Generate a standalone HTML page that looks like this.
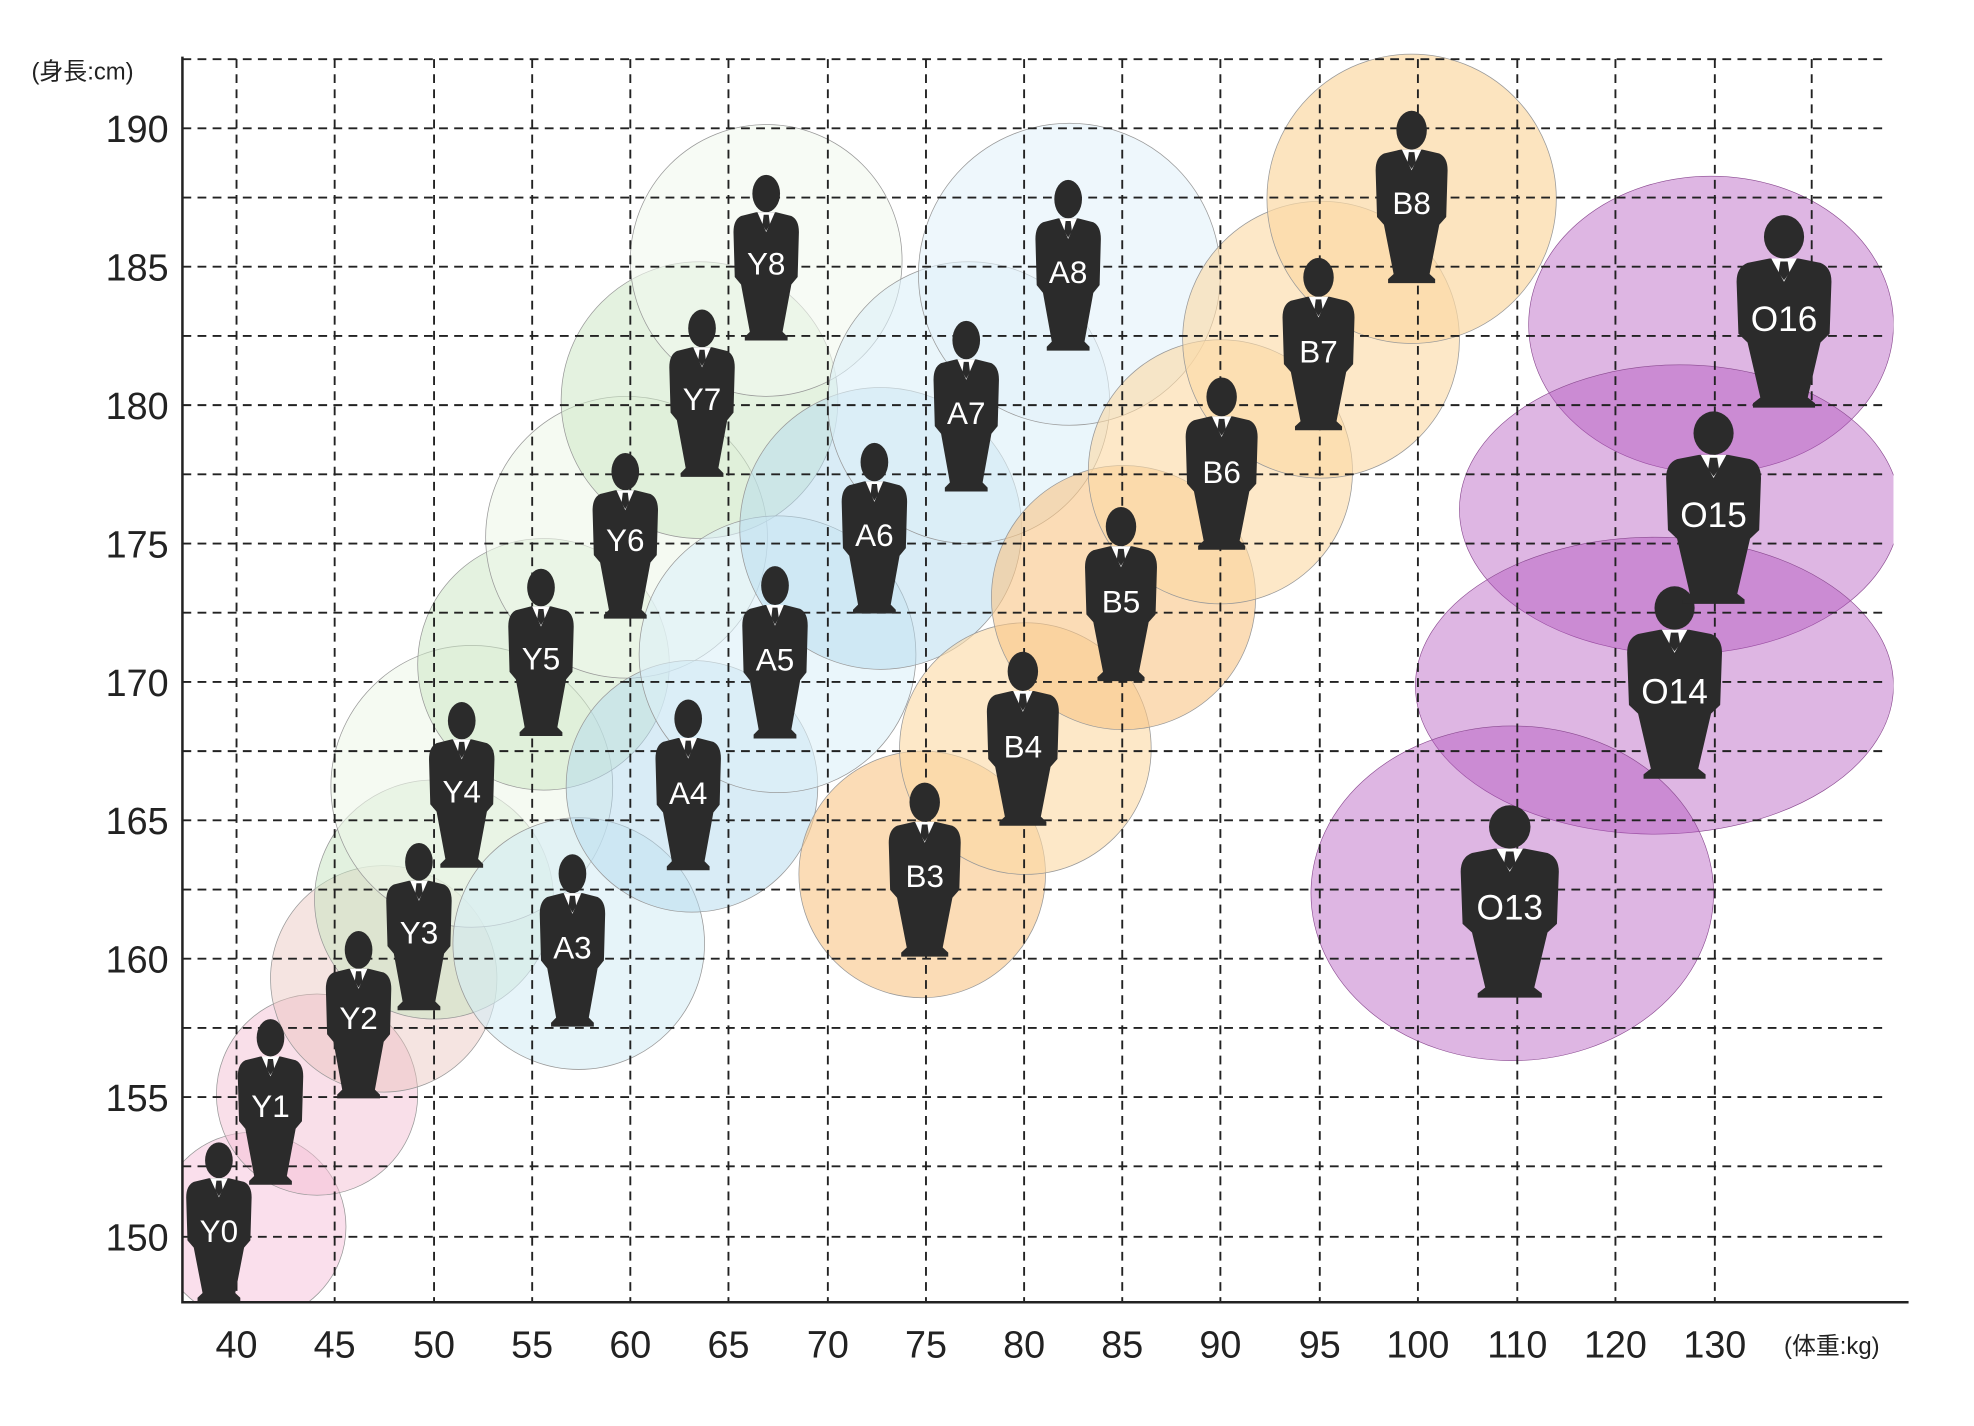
<!DOCTYPE html>
<html><head><meta charset="utf-8"><style>
html,body{margin:0;padding:0;background:#fff;}
svg{display:block;}
text{font-family:"Liberation Sans","Noto Sans CJK JP",sans-serif;}
</style></head><body>
<svg width="1974" height="1426" viewBox="0 0 1569 1133.4" preserveAspectRatio="none" xmlns="http://www.w3.org/2000/svg">
<defs>
<clipPath id="pc"><rect x="145" y="40" width="1360" height="995"/></clipPath>
<g id="p">
<ellipse cx="0" cy="15" rx="11" ry="15" fill="#2b2b2b"/>
<path d="M-8 30 L-20 33 Q-26 36 -26 46 L-25 82 L-20 88 L-13 126 L-17 130 L-17 133 L17 133 L17 130 L13 126 L20 88 L25 82 L26 46 Q26 36 20 33 L8 30 Z" fill="#2b2b2b"/>
<polygon points="-7,30 7,30 0,46" fill="#fff"/>
<polygon points="-2,32 2,32 3,40 0,45 -3,40" fill="#2b2b2b"/>
</g>
</defs>
<g clip-path="url(#pc)">
<g stroke="#999" stroke-width="0.6">
<circle cx="200" cy="975" r="75" fill="#f6c0da" fill-opacity="0.5"/>
<circle cx="252" cy="870" r="80" fill="#f4c0d4" fill-opacity="0.5"/>
<circle cx="305" cy="778" r="90" fill="#e8c4bc" fill-opacity="0.45"/>
<circle cx="345" cy="715" r="95" fill="#c6e4c0" fill-opacity="0.5"/>
<circle cx="375" cy="625" r="112" fill="#eef6ea" fill-opacity="0.6"/>
<circle cx="432" cy="528" r="100" fill="#cde8c6" fill-opacity="0.55"/>
<circle cx="498" cy="427" r="112" fill="#eef6ea" fill-opacity="0.6"/>
<circle cx="556" cy="318" r="110" fill="#cde8c6" fill-opacity="0.55"/>
<circle cx="609" cy="207" r="108" fill="#f2f8ee" fill-opacity="0.6"/>
<circle cx="460" cy="750" r="100" fill="#d6ecf5" fill-opacity="0.6"/>
<circle cx="550" cy="625" r="100" fill="#b4daee" fill-opacity="0.5"/>
<circle cx="618" cy="520" r="110" fill="#dcf0f8" fill-opacity="0.6"/>
<circle cx="700" cy="420" r="112" fill="#b4daee" fill-opacity="0.5"/>
<circle cx="770" cy="320" r="112" fill="#dcf0f8" fill-opacity="0.6"/>
<circle cx="850" cy="218" r="120" fill="#e2f2fa" fill-opacity="0.6"/>
<circle cx="733" cy="695" r="98" fill="#f8c486" fill-opacity="0.6"/>
<circle cx="815" cy="595" r="100" fill="#fbd8a4" fill-opacity="0.6"/>
<circle cx="893" cy="475" r="105" fill="#f8c486" fill-opacity="0.6"/>
<circle cx="970" cy="375" r="105" fill="#fbd8a4" fill-opacity="0.6"/>
<circle cx="1050" cy="270" r="110" fill="#fbd8a4" fill-opacity="0.6"/>
<circle cx="1122" cy="158" r="115" fill="#fbd8a4" fill-opacity="0.7"/>
</g>
<g fill="#b050bc" fill-opacity="0.42" stroke="#8a4a90" stroke-width="0.5">
<ellipse cx="1360" cy="258" rx="145" ry="118"/>
<ellipse cx="1335" cy="405" rx="175" ry="115"/>
<ellipse cx="1315" cy="545" rx="190" ry="118"/>
<ellipse cx="1202" cy="710" rx="160" ry="133"/>
</g>
</g>
<g stroke="#222" stroke-width="1.5" stroke-dasharray="7,5" fill="none">
<path d="M145 47H1500M145 102H1500M145 157H1500M145 212H1500M145 267H1500M145 322H1500M145 377H1500M145 432H1500M145 487H1500M145 542H1500M145 597H1500M145 652H1500M145 707H1500M145 762H1500M145 817H1500M145 872H1500M145 927H1500M145 983H1500"/>
<path d="M188 47V1035M266 47V1035M345 47V1035M423 47V1035M501 47V1035M579 47V1035M658 47V1035M736 47V1035M814 47V1035M892 47V1035M970 47V1035M1049 47V1035M1127 47V1035M1206 47V1035M1284 47V1035M1363 47V1035M1440 47V320"/>
</g>
<path d="M145 45V1035H1517" stroke="#222" stroke-width="2" fill="none"/>
<g font-size="30" fill="#222" text-anchor="end">
<text x="134" y="113">190</text><text x="134" y="223">185</text><text x="134" y="333">180</text><text x="134" y="443">175</text><text x="134" y="553">170</text><text x="134" y="663">165</text><text x="134" y="773">160</text><text x="134" y="883">155</text><text x="134" y="994">150</text>
</g>
<text x="25" y="63" font-size="19" fill="#222">(身長:cm)</text>
<g font-size="30" fill="#222" text-anchor="middle">
<text x="188" y="1079">40</text><text x="266" y="1079">45</text><text x="345" y="1079">50</text><text x="423" y="1079">55</text><text x="501" y="1079">60</text><text x="579" y="1079">65</text><text x="658" y="1079">70</text><text x="736" y="1079">75</text><text x="814" y="1079">80</text><text x="892" y="1079">85</text><text x="970" y="1079">90</text><text x="1049" y="1079">95</text><text x="1127" y="1079">100</text><text x="1206" y="1079">110</text><text x="1284" y="1079">120</text><text x="1363" y="1079">130</text>
</g>
<text x="1418" y="1076" font-size="19" fill="#222">(体重:kg)</text>
<g>
<use href="#p" transform="translate(174,908) scale(1,0.95)"/>
<use href="#p" transform="translate(215,810) scale(1,0.99)"/>
<use href="#p" transform="translate(285,740) scale(1,1)"/>
<use href="#p" transform="translate(333,670) scale(1,1)"/>
<use href="#p" transform="translate(367,558) scale(1,0.99)"/>
<use href="#p" transform="translate(430,452) scale(1,1)"/>
<use href="#p" transform="translate(497,360) scale(1,0.99)"/>
<use href="#p" transform="translate(558,246) scale(1,1)"/>
<use href="#p" transform="translate(609,139) scale(1,0.99)"/>
<use href="#p" transform="translate(455,679) scale(1,1.03)"/>
<use href="#p" transform="translate(547,556) scale(1,1.02)"/>
<use href="#p" transform="translate(616,450) scale(1,1.03)"/>
<use href="#p" transform="translate(695,352) scale(1,1.02)"/>
<use href="#p" transform="translate(768,255) scale(1,1.02)"/>
<use href="#p" transform="translate(849,143) scale(1,1.02)"/>
<use href="#p" transform="translate(735,622) scale(1.1,1.04)"/>
<use href="#p" transform="translate(813,518) scale(1.1,1.04)"/>
<use href="#p" transform="translate(891,403) scale(1.1,1.04)"/>
<use href="#p" transform="translate(971,300) scale(1.1,1.03)"/>
<use href="#p" transform="translate(1048,205) scale(1.1,1.03)"/>
<use href="#p" transform="translate(1122,88) scale(1.1,1.03)"/>
<use href="#p" transform="translate(1200,640) scale(1.5,1.15)"/>
<use href="#p" transform="translate(1331,466) scale(1.45,1.15)"/>
<use href="#p" transform="translate(1362,327) scale(1.45,1.15)"/>
<use href="#p" transform="translate(1418,171) scale(1.45,1.15)"/>
</g>
<g font-size="25" fill="#fff" text-anchor="middle">
<text x="174" y="987">Y0</text><text x="215" y="888">Y1</text><text x="285" y="818">Y2</text><text x="333" y="750">Y3</text><text x="367" y="638">Y4</text><text x="430" y="532">Y5</text><text x="497" y="438">Y6</text><text x="558" y="326">Y7</text><text x="609" y="218">Y8</text>
<text x="455" y="762">A3</text><text x="547" y="639">A4</text><text x="616" y="533">A5</text><text x="695" y="434">A6</text><text x="768" y="337">A7</text><text x="849" y="225">A8</text>
<text x="735" y="705">B3</text><text x="813" y="602">B4</text><text x="891" y="487">B5</text><text x="971" y="384">B6</text><text x="1048" y="288">B7</text><text x="1122" y="170">B8</text>
</g>
<g font-size="28" fill="#fff" text-anchor="middle">
<text x="1200" y="731">O13</text><text x="1331" y="559">O14</text><text x="1362" y="419">O15</text><text x="1418" y="263">O16</text>
</g>
</svg>
</body></html>
